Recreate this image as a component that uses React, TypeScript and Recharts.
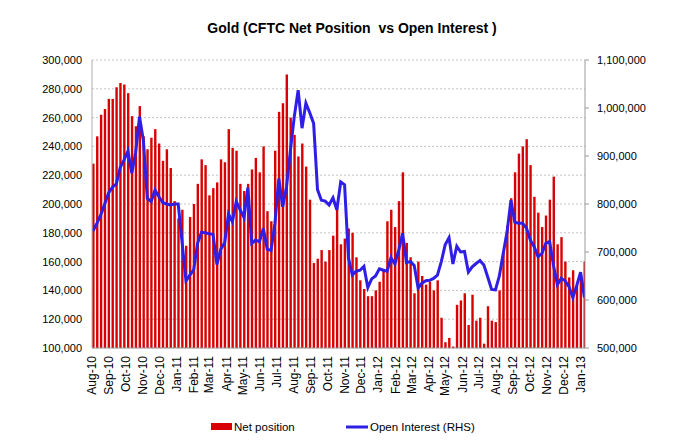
import React from 'react'
import { ComposedChart, Bar, Line, XAxis, YAxis, CartesianGrid, Legend } from 'recharts'

const RED = '#d80000'
const BLUE = '#2f1fe6'
const FONT = '"Liberation Sans", Arial, sans-serif'

// date axis counted in days from 1 Aug 2010; reports every Tuesday from 3 Aug 2010
const ORIGIN = Date.UTC(2010, 7, 1)
const DAY = 86400000
const FIRST_REPORT_DAY = 2
const LAST_DAY = 892
const MONTH_NAMES = ['Jan', 'Feb', 'Mar', 'Apr', 'May', 'Jun', 'Jul', 'Aug', 'Sep', 'Oct', 'Nov', 'Dec']

// Net position (contracts)
const NET_POSITION = [
  228000, 247000, 262000, 266000, 273000, 273000, 281000, 284000, 283000, 277000,
  261000, 254000, 268000, 247000, 238000, 246000, 252000, 242000, 230000, 238000,
  225000, 202000, 190000, 196000, 171000, 191000, 200000, 214000, 231000, 227000,
  206000, 211000, 215000, 231000, 229000, 252000, 239000, 237000, 214000, 209000,
  214000, 224000, 232000, 222000, 240000, 195000, 188000, 237000, 264000, 270000,
  290000, 260000, 248000, 233000, 242000, 226000, 203000, 159000, 162000, 168000,
  160000, 168000, 178000, 198000, 172000, 176000, 183000, 180000, 163000, 147000,
  141000, 136000, 136000, 140000, 146000, 155000, 188000, 196000, 184000, 202000,
  222000, 173000, 163000, 138000, 160000, 150000, 144000, 146000, 140000, 147000,
  121000, 104000, 107000, 101000, 130000, 133000, 138000, 116000, 137000, 119000,
  121000, 103000, 129000, 119000, 118000, 140000, 167000, 185000, 204000, 222000,
  235000, 240000, 245000, 227000, 205000, 194000, 184000, 192000, 203000, 219000,
  172000, 177000, 160000, 149000, 154000, 144000, 151000, 160000,
]

// Open interest (contracts, right axis)
const OPEN_INTEREST = [
  744000, 760000, 778000, 800000, 823000, 835000, 842000, 876000, 892000, 910000,
  864000, 908000, 982000, 932000, 812000, 805000, 829000, 815000, 803000, 800000,
  798000, 800000, 800000, 720000, 640000, 652000, 663000, 718000, 741000, 740000,
  738000, 737000, 674000, 706000, 719000, 779000, 763000, 805000, 788000, 772000,
  834000, 718000, 725000, 721000, 749000, 706000, 703000, 760000, 853000, 794000,
  836000, 912000, 982000, 1037000, 958000, 1010000, 990000, 968000, 830000, 808000,
  806000, 798000, 813000, 788000, 846000, 840000, 688000, 652000, 660000, 662000,
  670000, 626000, 644000, 650000, 665000, 662000, 660000, 688000, 675000, 704000,
  739000, 678000, 680000, 672000, 625000, 635000, 640000, 641000, 645000, 652000,
  680000, 715000, 730000, 675000, 712000, 700000, 701000, 658000, 669000, 676000,
  682000, 673000, 648000, 622000, 621000, 650000, 697000, 742000, 808000, 762000,
  760000, 760000, 750000, 725000, 711000, 690000, 697000, 718000, 722000, 672000,
  632000, 645000, 640000, 628000, 605000, 630000, 658000, 605000,
]

const LEFT_TICKS = [100000, 120000, 140000, 160000, 180000, 200000, 220000, 240000, 260000, 280000, 300000]
const RIGHT_TICKS = [500000, 600000, 700000, 800000, 900000, 1000000, 1100000]

const data = NET_POSITION.map((net, i) => ({
  day: FIRST_REPORT_DAY + i * 7,
  net,
  oi: OPEN_INTEREST[i],
}))

// one tick on the 1st of every month, Aug-10 .. Jan-13
const monthTicks: number[] = []
const monthLabels: Record<number, string> = {}
for (let m = 0; m < 30; m++) {
  const d = new Date(Date.UTC(2010, 7 + m, 1))
  const day = Math.round((d.getTime() - ORIGIN) / DAY)
  monthTicks.push(day)
  monthLabels[day] = `${MONTH_NAMES[d.getUTCMonth()]}-${String(d.getUTCFullYear()).slice(2)}`
}

const fmt = (v: number) => v.toLocaleString('en-US')

function MonthTick({ x, y, payload }: { x?: number; y?: number; payload?: { value: number } }) {
  const label = payload ? monthLabels[payload.value] : undefined
  if (!label) return <g />
  return (
    <text transform={`translate(${x},${y}) rotate(-90)`} textAnchor="end" dy="0.35em"
      fontSize={12} fontFamily={FONT} fill="#000">
      {label}
    </text>
  )
}

function LegendBox() {
  return (
    <svg width={676} height={16} style={{ display: 'block' }}>
      <rect x={211} y={4} width={21} height={7} fill={RED} />
      <text x={234} y={12} fontSize={11.5} fontFamily={FONT} fill="#000">Net position</text>
      <line x1={346} x2={368} y1={8} y2={8} stroke={BLUE} strokeWidth={3} />
      <text x={370} y={12} fontSize={11.5} fontFamily={FONT} fill="#000">Open Interest (RHS)</text>
    </svg>
  )
}

export default function App() {
  return (
    <div style={{ position: 'absolute', left: 0, top: 0, width: 676, height: 445, background: '#fff', fontFamily: FONT }}>
      <div style={{
        position: 'absolute', left: 352, top: 20, transform: 'translateX(-50%)',
        fontSize: 14, fontWeight: 700, lineHeight: '16px', whiteSpace: 'pre', color: '#000',
      }}>
        {'Gold (CFTC Net Position  vs Open Interest )'}
      </div>
      <ComposedChart width={676} height={445} data={data}
        margin={{ top: 60, right: 20, bottom: 47, left: 0 }}>
        <CartesianGrid yAxisId="left" vertical={false} stroke="#c4c4c4" strokeDasharray="2 2" />
        <XAxis dataKey="day" type="number" domain={[0, LAST_DAY]} ticks={monthTicks} interval={0}
          height={50} tickLine={false} axisLine={{ stroke: '#9a9a9a' }} tick={<MonthTick />} allowDataOverflow />
        <YAxis yAxisId="left" domain={[100000, 300000]} ticks={LEFT_TICKS} width={92}
          tickFormatter={fmt} tickLine={false} tickMargin={4} axisLine={{ stroke: '#b0b0b0' }}
          tick={{ fontSize: 11, fill: '#000', fontFamily: FONT }} allowDataOverflow />
        <YAxis yAxisId="right" orientation="right" domain={[500000, 1100000]} ticks={RIGHT_TICKS} width={71}
          tickFormatter={fmt} tickSize={4} tickMargin={8} tickLine={{ stroke: '#9a9a9a' }}
          axisLine={{ stroke: '#9a9a9a' }} tick={{ fontSize: 11, fill: '#000', fontFamily: FONT }} allowDataOverflow />
        <Legend layout="horizontal" verticalAlign="middle" align="center"
          wrapperStyle={{ top: 419, left: 0, width: 676, height: 16 }} content={() => <LegendBox />} />
        <Bar yAxisId="left" dataKey="net" name="Net position" fill={RED} barSize={2.4} isAnimationActive={false} />
        <Line yAxisId="right" dataKey="oi" name="Open Interest (RHS)" type="linear" stroke={BLUE}
          strokeWidth={3} dot={false} activeDot={false} isAnimationActive={false} />
      </ComposedChart>
    </div>
  )
}
